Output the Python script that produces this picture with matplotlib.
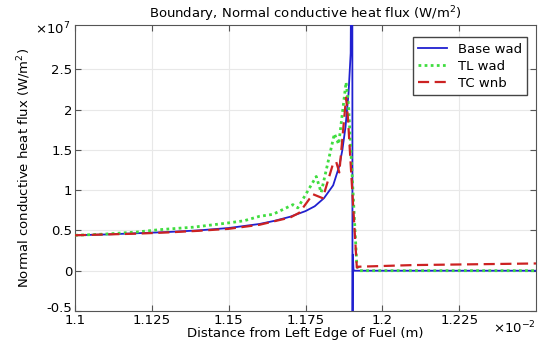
import matplotlib
matplotlib.use("Agg")
import matplotlib.pyplot as plt
import matplotlib.transforms as mtransforms

# x in units of 1e-2 m, y in units of 1e7 W/m^2
base_x = [1.100, 1.110, 1.120, 1.130, 1.140, 1.150, 1.160, 1.165, 1.170, 1.175,
          1.178, 1.181, 1.184, 1.186, 1.187, 1.188, 1.189, 1.1897, 1.1902,
          1.1903, 1.1904, 1.1906, 1.1908, 1.200, 1.250]
base_y = [0.44, 0.45, 0.465, 0.48, 0.50, 0.53, 0.58, 0.62, 0.67, 0.74,
          0.80, 0.90, 1.06, 1.30, 1.50, 1.78, 2.20, 2.70, 6.0,
          -1.0, 0.20, 0.02, 0.0, 0.0, 0.0]

tl_x = [1.100, 1.110, 1.120, 1.1276, 1.1384, 1.1492, 1.155, 1.160, 1.1644, 1.1709,
        1.1725, 1.1785, 1.1801, 1.1844, 1.1858, 1.1882, 1.1890, 1.1917, 1.1925, 1.250]
tl_y = [0.44, 0.455, 0.48, 0.51, 0.54, 0.59, 0.62, 0.675, 0.70, 0.82,
        0.78, 1.17, 0.97, 1.70, 1.57, 2.34, 2.05, 0.07, 0.0, 0.0]

tc_x = [1.100, 1.110, 1.120, 1.130, 1.140, 1.150, 1.160, 1.1655, 1.170, 1.173,
        1.1774, 1.1806, 1.1839, 1.1850, 1.186, 1.1882, 1.1888, 1.1917, 1.1925,
        1.210, 1.230, 1.250]
tc_y = [0.44, 0.45, 0.46, 0.475, 0.495, 0.52, 0.57, 0.62, 0.66, 0.72,
        0.95, 0.90, 1.32, 1.35, 1.22, 2.15, 1.90, 0.04, 0.05,
        0.07, 0.08, 0.09]

series_labels = ["Base wad", "TL wad", "TC wnb"]
x_ticks = [1.1, 1.125, 1.15, 1.175, 1.2, 1.225]
x_ticklabels = ["1.1", "1.125", "1.15", "1.175", "1.2", "1.225"]
y_ticks = [-0.5, 0, 0.5, 1, 1.5, 2, 2.5]
y_ticklabels = ["-0.5", "0", "0.5", "1", "1.5", "2", "2.5"]

plt.rcParams['font.family'] = ['DejaVu Sans']
fig = plt.figure(figsize=(5.41, 3.43), dpi=100)
ax = fig.add_axes([75/541, 1 - 311/343, (536-75)/541, (311-25)/343])

ax.plot(base_x, base_y, color='#2020d0', lw=1.3, label=series_labels[0], zorder=3)
ax.plot(tl_x, tl_y, color='#40dd40', lw=2.0, ls=(0, (1, 1.2)), label=series_labels[1], zorder=4)
ax.plot(tc_x, tc_y, color='#cc2222', lw=1.6, ls=(0, (5, 2.5)), label=series_labels[2], zorder=5)

ax.set_xlim(1.1, 1.25)
ax.set_ylim(-0.5, 3.05)
ax.set_xticks(x_ticks)
ax.set_xticklabels(x_ticklabels)
ax.set_yticks(y_ticks)
ax.set_yticklabels(y_ticklabels)
ax.tick_params(direction='in', top=True, right=True, labelsize=9.5, length=4,
               color='#555555')
ax.tick_params(axis='x', pad=2)
ax.tick_params(axis='y', pad=2)
ax.grid(True, color='#e8e8e8', lw=0.8)
for s in ax.spines.values():
    s.set_color('#555555')

# nudge lowest y label up to avoid clashing with first x label
lbl = ax.get_yticklabels()[0]
lbl.set_transform(lbl.get_transform() + mtransforms.ScaledTranslation(0, 4/100, fig.dpi_scale_trans))

ax.set_title("Boundary, Normal conductive heat flux (W/m$^2$)", fontsize=9.5, pad=5)
ax.set_xlabel("Distance from Left Edge of Fuel (m)", fontsize=9.5, labelpad=0)
ax.set_ylabel("Normal conductive heat flux (W/m$^2$)", fontsize=9.5, labelpad=10)

ax.text(-0.01, 0.985, r"$\times$10$^{7}$", transform=ax.transAxes, ha='right', va='center', fontsize=9.5)
ax.text(1.0, -0.03, r"$\times$10$^{-2}$", transform=ax.transAxes, ha='right', va='top', fontsize=9.5)

leg = ax.legend(loc='upper right', fontsize=9.5, fancybox=False, framealpha=1,
                edgecolor='#444444', handlelength=2.2, borderpad=0.4, labelspacing=0.3,
                bbox_to_anchor=(0.995, 0.98))
leg.get_frame().set_linewidth(1.0)

fig.savefig("out.png", dpi=100)
